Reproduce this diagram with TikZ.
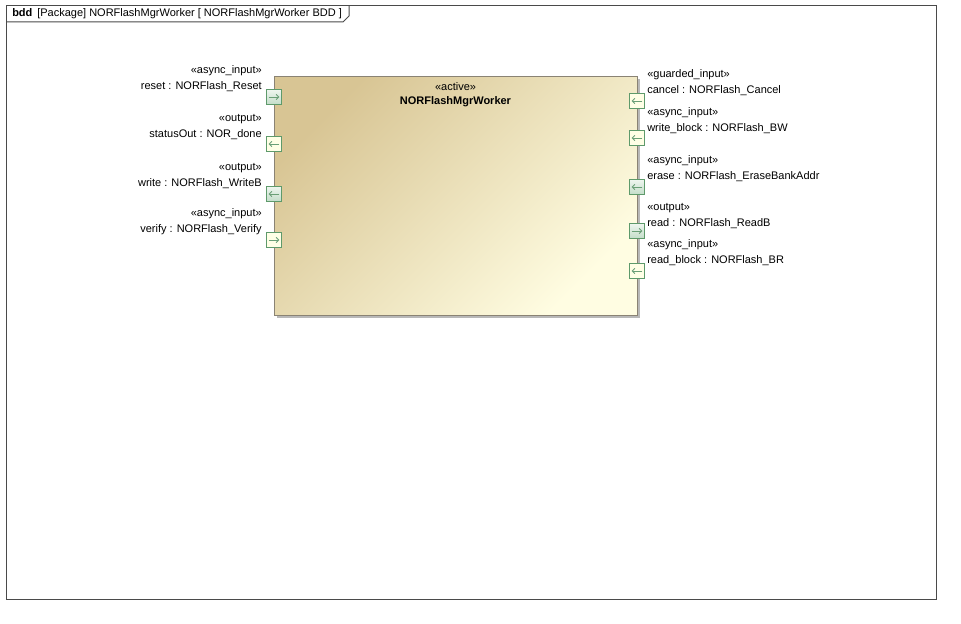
\documentclass[tikz,border=0pt]{standalone}
\usepackage{fontspec}
\setmainfont{Liberation Sans}
\usetikzlibrary{arrows.meta}
\definecolor{frameline}{HTML}{4A4A4A}
\definecolor{blocktl}{HTML}{D8C594}
\definecolor{blockbr}{HTML}{FFFDE2}
\definecolor{blockline}{HTML}{8A8374}
\definecolor{portline}{HTML}{5E9A6B}
\definecolor{portarrow}{HTML}{6A9F77}
\definecolor{portdark}{HTML}{C3DDC9}
\definecolor{portlight}{HTML}{EEF6EF}
\definecolor{portyellow}{HTML}{FFFFE6}

\begin{document}
\begin{tikzpicture}[x=0.75pt,y=-0.75pt,
    every node/.style={font=\fontsize{8.25}{12}\selectfont},
    lbl/.style={inner sep=0pt,align=left},
    port/.style={rectangle,draw=portline,line width=0.75pt,minimum size=11.25pt,inner sep=0pt},
    gport/.style={port,top color=portlight,bottom color=portdark},
    yport/.style={port,fill=portyellow},
    parrow/.style={draw=portarrow,line width=0.6pt,-{Straight Barb[length=2pt,width=4pt]}}]
  \useasboundingbox (0,0) rectangle (961,624);
  % frame
  \draw[frameline,line width=0.75pt] (6,6) rectangle (936,599);
  \draw[frameline,line width=0.75pt] (6,22) -- (343,22) -- (349,16) -- (349,6);
  \node[lbl,anchor=west] (title) at (12,14) {\textbf{bdd}\ \,[Package] NORFlashMgrWorker [ NORFlashMgrWorker BDD ]};

  % block
  \node[fill=black!28,minimum width=272.25pt,minimum height=178.5pt,inner sep=0pt] (blkshadow) at (458,198.5) {};
  \node[draw=blockline,line width=0.75pt,minimum width=272.25pt,minimum height=178.5pt,inner sep=0pt,
        top color=blocktl,bottom color=blockbr,shading angle=45] (blk) at (455.5,196) {};
  \node[lbl] (blkst) at (455.5,87) {«active»};
  \node[lbl] (blkname) at (455.5,102) {\textbf{NORFlashMgrWorker}};

  \begin{scope}[every node/.style={lbl,anchor=east,align=right,font=\fontsize{8.25}{12}\selectfont}]
    \node (resetlbl) at (262,79) {«async\_input»\\reset : NORFlash\_Reset};
    \node (statuslbl) at (262,127) {«output»\\statusOut : NOR\_done};
    \node (writelbl) at (262,176) {«output»\\write : NORFlash\_WriteB};
    \node (verifylbl) at (262,222) {«async\_input»\\verify : NORFlash\_Verify};
  \end{scope}
  \begin{scope}[every node/.style={lbl,anchor=west,align=left,font=\fontsize{8.25}{12}\selectfont}]
    \node (cancellbl) at (647,83) {«guarded\_input»\\cancel : NORFlash\_Cancel};
    \node (wblocklbl) at (647,121) {«async\_input»\\write\_block : NORFlash\_BW};
    \node (eraselbl) at (647,169) {«async\_input»\\erase : NORFlash\_EraseBankAddr};
    \node (readlbl) at (647,216) {«output»\\read : NORFlash\_ReadB};
    \node (rblocklbl) at (647,253) {«async\_input»\\read\_block : NORFlash\_BR};
  \end{scope}

  % ports
  \node[gport] (reset) at (274,97) {};
  \node[yport] (status) at (274,144) {};
  \node[gport] (write) at (274,194) {};
  \node[yport] (verify) at (274,240) {};
  \node[yport] (cancel) at (637,101) {};
  \node[yport] (wblock) at (637,138) {};
  \node[gport] (erase) at (637,187) {};
  \node[gport] (read) at (637,231) {};
  \node[yport] (rblock) at (637,271) {};

  \draw[parrow] ([xshift=-4pt]reset.center) -- ([xshift=4pt]reset.center);
  \draw[parrow] ([xshift=4pt]status.center) -- ([xshift=-4pt]status.center);
  \draw[parrow] ([xshift=4pt]write.center) -- ([xshift=-4pt]write.center);
  \draw[parrow] ([xshift=-4pt]verify.center) -- ([xshift=4pt]verify.center);
  \draw[parrow] ([xshift=4pt]cancel.center) -- ([xshift=-4pt]cancel.center);
  \draw[parrow] ([xshift=4pt]wblock.center) -- ([xshift=-4pt]wblock.center);
  \draw[parrow] ([xshift=4pt]erase.center) -- ([xshift=-4pt]erase.center);
  \draw[parrow] ([xshift=-4pt]read.center) -- ([xshift=4pt]read.center);
  \draw[parrow] ([xshift=4pt]rblock.center) -- ([xshift=-4pt]rblock.center);
\end{tikzpicture}
\end{document}
